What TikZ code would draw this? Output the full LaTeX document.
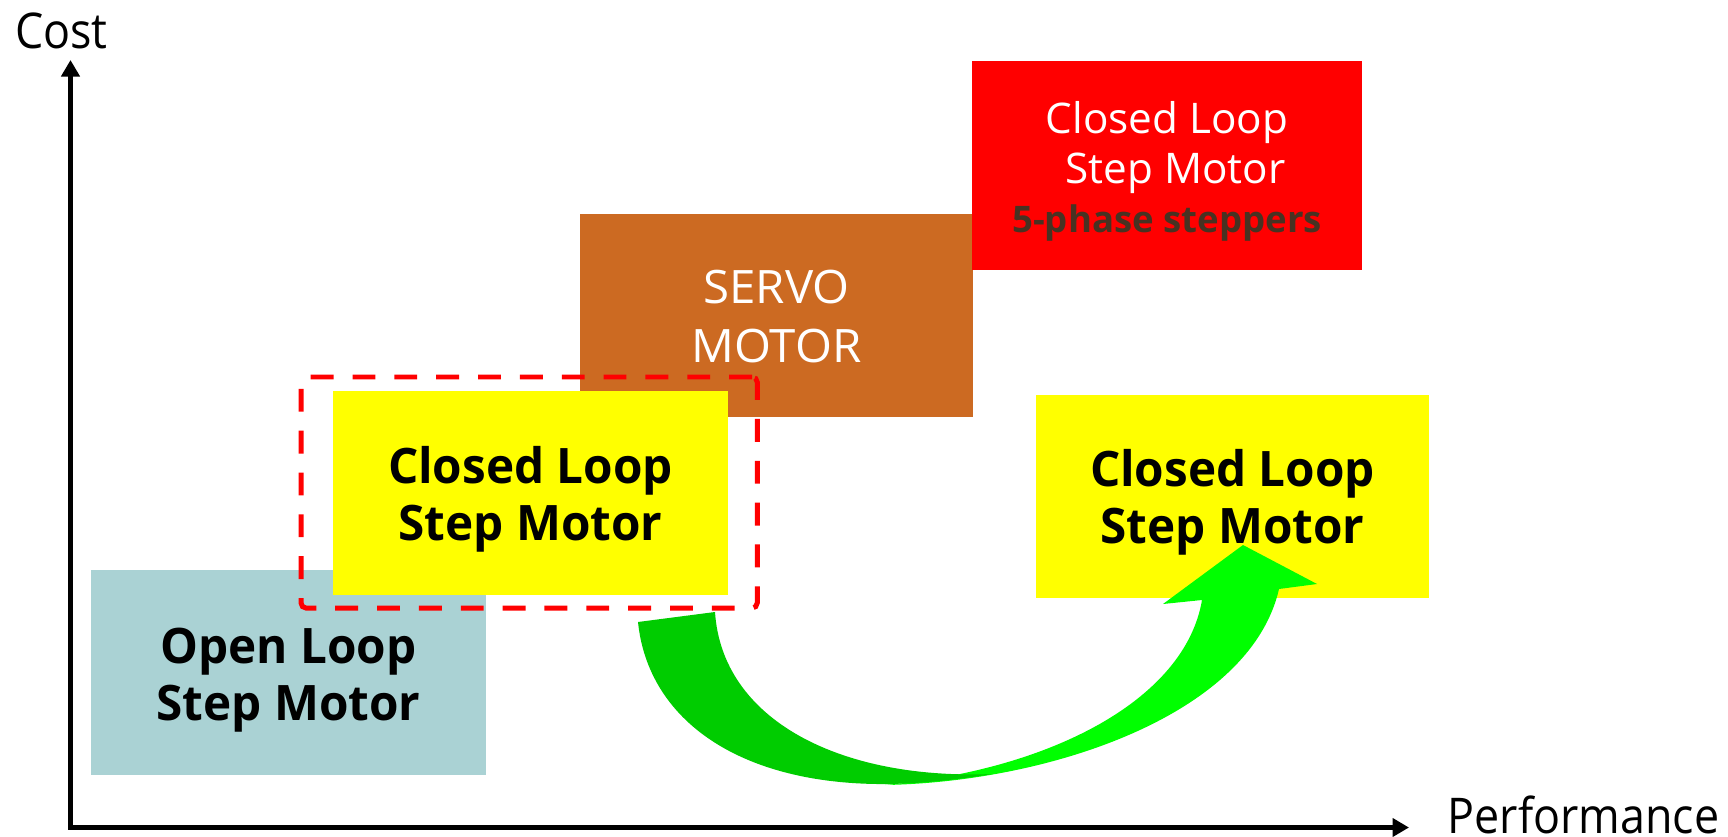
\documentclass[tikz,border=0pt]{standalone}
\usepackage{fontspec}
\setmainfont{Open Sans}
\newfontfamily\axisfont[FakeStretch=0.91]{Open Sans}
\newfontfamily\motorfont[FakeStretch=0.975]{Open Sans}
\newfontfamily\servofont[FakeStretch=1.03]{Open Sans}
\usetikzlibrary{arrows.meta}

\definecolor{tealbox}{RGB}{170,210,212}
\definecolor{servobrown}{RGB}{204,106,34}
\definecolor{hotred}{RGB}{255,0,0}
\definecolor{stepyellow}{RGB}{255,255,0}
\definecolor{phasebrown}{RGB}{72,50,34}
\definecolor{greendark}{RGB}{0,204,0}
\definecolor{greenlight}{RGB}{0,255,0}

\tikzset{
  box/.style={inner sep=0pt, outer sep=0pt, anchor=north west},
  boldlabel/.style={font=\motorfont\fontsize{13.9pt}{16.2pt}\selectfont\bfseries,
    align=center, anchor=base, inner sep=0pt},
  axislabel/.style={font=\axisfont\fontsize{14pt}{16pt}\selectfont, anchor=base, inner sep=0pt},
  axis/.style={line width=1.42pt, line cap=rect,
    -{Triangle[length=0.165cm,width=0.18cm]}},
}

\begin{document}
\begin{tikzpicture}[x=0.01cm, y=-0.01cm]
  \useasboundingbox (0,0) rectangle (1728,837);

  % cost / performance axes
  \coordinate (origin) at (70.5,827.5);
  \coordinate (ytop) at (70.5,60);
  \coordinate (xend) at (1409,827.5);
  \draw[axis] (origin) -- (ytop);
  \draw[axis] (origin) -- (xend);
  \node[axislabel] (costlabel) at (61.5,49) {Cost};
  \node[axislabel] (perflabel) at (1583.5,833) {Performance};

  % motor boxes
  \node[box, fill=servobrown, minimum width=3.93cm, minimum height=2.03cm] (servo) at (580,214) {};
  \node[box, fill=hotred, minimum width=3.90cm, minimum height=2.09cm] (redbox) at (972,61) {};
  \node[box, fill=tealbox, minimum width=3.95cm, minimum height=2.05cm] (openloop) at (91,570) {};
  \node[box, fill=stepyellow, minimum width=3.95cm, minimum height=2.04cm] (closedA) at (333,391) {};
  \node[box, draw=hotred, line width=1.42pt, dash pattern=on 6.5pt off 5.4pt,
        rounded corners=1.5pt, minimum width=4.56cm, minimum height=2.31cm] (frame) at (301,377) {};
  \node[box, fill=stepyellow, minimum width=3.93cm, minimum height=2.03cm] (closedB) at (1036,395) {};

  % curved arrow: bright front face, then dark back face
  \fill[greenlight] (885,785) .. controls (1050,782) and (1250,715) .. (1279,589)
    -- (1317,584) -- (1243,545) -- (1163,604) -- (1202,600)
    .. controls (1185,700) and (1050,770) .. (885,785) -- cycle;
  \fill[greendark] (638,622) -- (715,612)
    .. controls (722,720) and (840,780) .. (992,774)
    .. controls (960,779) and (930,783) .. (890,784)
    .. controls (740,786) and (648,720) .. (638,622) -- cycle;

  % box texts
  \node[boldlabel] (openlooptext) at (288.5,720) {Open Loop\\Step Motor};
  \node[boldlabel] (closedAtext) at (530.5,540) {Closed Loop\\Step Motor};
  \node[boldlabel] (closedBtext) at (1232.5,543) {Closed Loop\\Step Motor};
  \node[font=\servofont\fontsize{13.1pt}{16.8pt}\selectfont, text=white, align=center,
        anchor=base, inner sep=0pt] (servotext) at (776.5,363) {SERVO\\MOTOR};
  \node[font=\fontsize{12pt}{14.2pt}\selectfont, text=white, align=center,
        anchor=base, inner sep=0pt] (redtext) at (1167,233)
        {Closed Loop\\\hspace*{0.17cm}Step Motor\\
         {\color{phasebrown}\bfseries\fontsize{10.4pt}{14.2pt}\selectfont 5-phase steppers}};
\end{tikzpicture}
\end{document}
